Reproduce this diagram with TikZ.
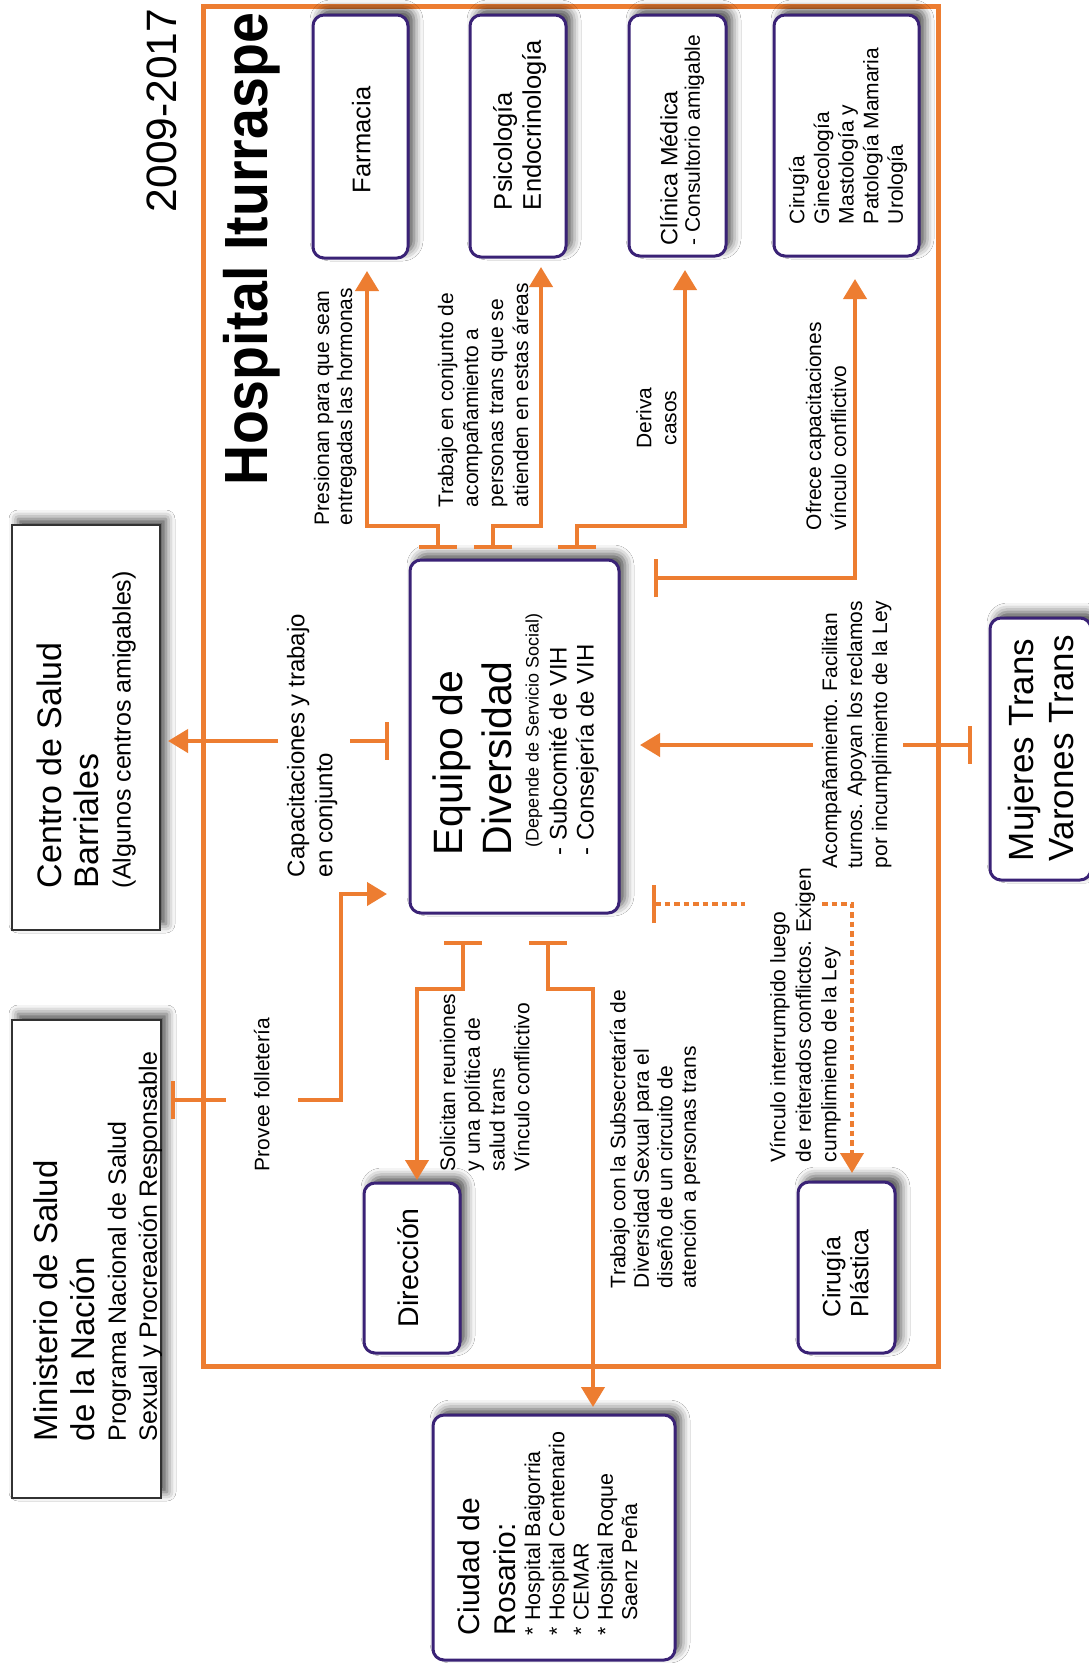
\documentclass[tikz,border=0pt]{standalone}
\usepackage{fontspec}
\setmainfont{Liberation Sans}
\newfontfamily\titlefont[FakeStretch=0.91]{Liberation Sans}
\usetikzlibrary{arrows.meta,shadows.blur,calc}
\definecolor{orng}{RGB}{237,125,49}
\definecolor{purp}{RGB}{58,34,118}
\definecolor{dgray}{RGB}{50,50,50}
\newcommand{\fsz}[2]{\fontsize{#1}{#2}\selectfont}
\begin{document}
\begin{tikzpicture}[x=1pt,y=-1pt,
  shd/.style={blur shadow={shadow xshift=6pt,shadow yshift=6pt,shadow blur radius=9pt,shadow opacity=70}},
  pbox/.style={draw=purp,line width=3pt,rounded corners=11pt,fill=white,inner sep=0pt,outer sep=0pt,shd},
  gbox/.style={draw=dgray,line width=2.5pt,fill=white,inner sep=0pt,outer sep=0pt,shd},
  txt/.style={rotate=90,anchor=north west,inner sep=0pt,outer sep=0pt,align=left},
  conn/.style={draw=orng,line width=4pt,{Bar[width=38pt]}-{Triangle[length=20pt,width=23pt]}},
  teeonly/.style={draw=orng,line width=4pt,{Bar[width=38pt]}-},
  arronly/.style={draw=orng,line width=4pt,-{Triangle[length=20pt,width=23pt]}},
  dots/.style={dash pattern=on 5.5pt off 4pt}
]
\path[use as bounding box,fill=white] (0,0) rectangle (1089,1663);

% hospital frame
\node[draw=orng,line width=5pt,minimum width=735pt,minimum height=1360pt,inner sep=0pt,outer sep=0pt] (hosp) at (570.5,686) {};

% boxes
\node[pbox,minimum width=95pt,minimum height=243pt] (farm) at (360.5,136.5) {};
\node[pbox,minimum width=96pt,minimum height=242pt] (psico) at (518,136) {};
\node[pbox,minimum width=97pt,minimum height=241pt] (clin) at (677.5,135.5) {};
\node[pbox,minimum width=145pt,minimum height=241pt] (ciru) at (846.5,135.5) {};
\node[gbox,minimum width=148pt,minimum height=405pt] (centro) at (86,727.5) {};
\node[gbox,minimum width=149pt,minimum height=478pt] (minis) at (86.5,1259) {};
\node[pbox,minimum width=209pt,minimum height=353pt] (equipo) at (514.5,736.5) {};
\node[pbox,minimum width=101pt,minimum height=262pt] (mujeres) at (1040.5,749) {};
\node[pbox,minimum width=96pt,minimum height=170pt] (direc) at (412,1268) {};
\node[pbox,minimum width=97pt,minimum height=171pt] (plast) at (846.5,1267.5) {};
\node[pbox,minimum width=242pt,minimum height=245pt] (rosario) at (554,1537.5) {};

% connector origins and label gaps
\coordinate (t1) at (438,549);
\coordinate (t2) at (493,549);
\coordinate (t3) at (577,549);
\coordinate (t4) at (654,578);
\coordinate (t5) at (389,741);
\coordinate (t6) at (972,745);
\coordinate (t7) at (171,1100);
\coordinate (t8) at (463,941);
\coordinate (t9) at (548,941);
\coordinate (t10) at (652,904);
\coordinate (g5a) at (350,741);  \coordinate (g5b) at (278,741);
\coordinate (g6a) at (903,745);  \coordinate (g6b) at (813,745);
\coordinate (g7a) at (226,1100); \coordinate (g7b) at (298,1100);
\coordinate (g10a) at (745,904); \coordinate (g10b) at (822,904);

% connectors
\draw[conn,shorten >=13pt] (t1) -- (438,526) -| ([xshift=6.5pt]farm.south);
\draw[conn,shorten >=10pt] (t2) -- (493,526) -| ([xshift=23pt]psico.south);
\draw[conn,shorten >=14pt] (t3) -- (577,526) -| ([xshift=7.5pt]clin.south);
\draw[conn,shorten >=23pt] (t4) -| ([xshift=8.5pt]ciru.south);
\draw[teeonly] (t5) -- (g5a);
\draw[arronly,shorten >=8pt] (g5b) -- (t5 -| centro.east);
\draw[teeonly] (t6) -- (g6a);
\draw[arronly,shorten >=21pt] (g6b) -- (t6 -| equipo.east);
\draw[teeonly] (t7) -- (g7a);
\draw[arronly,shorten >=23pt] (g7b) -- (341,1100) |- ([yshift=19pt]equipo.south west);
\draw[conn,shorten >=3pt] (t8) -- (463,989) -| ([xshift=5pt]direc.north);
\draw[conn,shorten >=8pt] (t9) -- (548,989) -| ([xshift=39pt]rosario.north);
\draw[teeonly,dots] (t10) -- (g10a);
\draw[arronly,dots,shorten >=9pt] (g10b) -| ([xshift=5.5pt]plast.north);

% titles
\node[txt,font=\fsz{42.5}{50}] (year) at (147,212) {2009-2017};
\node[txt,font={\titlefont\bfseries\fsz{61}{70}}] (title) at (223,485) {Hospital Iturraspe};

% box texts
\node[txt,font=\fsz{25.5}{29}] (tfarm) at (352,193) {Farmacia};
\node[txt,font=\fsz{25.5}{29}] (tpsico) at (493,210) {Psicología\\Endocrinología};
\node[txt,font=\fsz{21}{22.5}] (tclin) at (660,245) {{\fsz{23.5}{22.5}Clínica Médica}\\- Consultorio amigable};
\node[txt,font=\fsz{21}{24.6}] (tciru) at (789,224) {Cirugía\\Ginecología\\Mastología y\\Patología Mamaria\\Urología};
\node[txt,font=\fsz{34}{37}] (tcentro) at (37,888) {Centro de Salud\\Barriales\\[-5pt]{\fsz{25}{30}(Algunos centros amigables)}};
\node[txt,font=\fsz{33}{37}] (tminis) at (34,1441) {Ministerio de Salud\\de la Nación\\[-6pt]{\fsz{25}{30}Programa Nacional de Salud}\\[-6pt]{\fsz{25}{30}Sexual y Procreación Responsable}};
\node[txt,font=\fsz{41}{49}] (tequipo) at (433,855) {Equipo de\\Diversidad\\[-22pt]\hspace*{8pt}{\fsz{18}{20}(Depende de Servicio Social)}\\[-21pt]{\fsz{24}{28}- Subcomité de VIH}\\[-22pt]{\fsz{24}{28}- Consejería de VIH}};
\node[txt,font=\fsz{35}{40}] (tmuj) at (1008,861) {Mujeres Trans\\Varones Trans};
\node[txt,font=\fsz{28.5}{32}] (tdirec) at (398,1327) {Dirección};
\node[txt,font=\fsz{25}{28}] (tplast) at (822,1317) {Cirugía\\Plástica};
\node[txt,font=\fsz{21.5}{24.3}] (tros) at (458,1635) {{\fsz{30}{36}Ciudad de}\\[11.7pt]{\fsz{30}{36}Rosario:}\\* Hospital Baigorria\\* Hospital Centenario\\* CEMAR\\* Hospital Roque\\\phantom{* }Saenz Peña};

% connector labels
\node[txt,font=\fsz{21}{23}] (lfarm) at (314,525) {Presionan para que sean\\entregadas las hormonas};
\node[txt,font=\fsz{21}{25}] (lpsico) at (438,507) {Trabajo en conjunto de\\acompañamiento a\\personas trans que se\\atienden en estas áreas};
\node[rotate=90,anchor=north,inner sep=0pt,align=center,font=\fsz{21}{25}] (lclin) at (636,418) {Deriva\\casos};
\node[txt,font=\fsz{21}{25}] (lciru) at (806,530) {Ofrece capacitaciones\\vínculo conflictivo};
\node[txt,font=\fsz{24}{28}] (lcentro) at (287,877) {Capacitaciones y trabajo\\en conjunto};
\node[txt,font=\fsz{21}{25}] (lmuj) at (822,868) {Acompañamiento. Facilitan\\turnos. Apoyan los reclamos\\por incumplimiento de la Ley};
\node[txt,font=\fsz{21}{25}] (lminis) at (254,1171) {Provee folletería};
\node[txt,font=\fsz{21}{24.7}] (ldirec) at (440,1171) {Solicitan reuniones\\y una política de\\salud trans\\Vínculo conflictivo};
\node[txt,font=\fsz{21}{23.5}] (lros) at (610,1288) {Trabajo con la Subsecretaría de\\Diversidad Sexual para el\\diseño de un circuito de\\atención a personas trans};
\node[txt,font=\fsz{21}{25.5}] (lplast) at (770,1162) {Vínculo interrumpido luego\\de reiterados conflictos. Exigen\\cumplimiento de la Ley};
\end{tikzpicture}
\end{document}
